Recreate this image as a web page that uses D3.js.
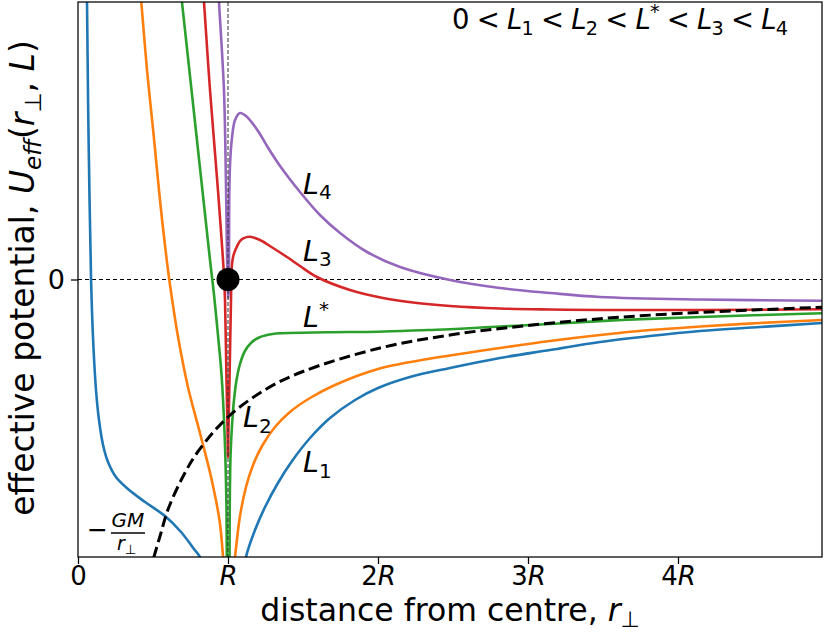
<!DOCTYPE html>
<html>
<head>
<meta charset="utf-8">
<script src="https://cdn.jsdelivr.net/npm/d3@7"></script>
<style>
  body { margin: 0; background: #fff; }
  text { font-family: "DejaVu Sans", sans-serif; white-space: pre; }
</style>
</head>
<body>
<div id="chart"></div>
<script>
// curves: [r / R, U_eff]  (arbitrary potential units)
const l1Left = [[0.055, 2.995], [0.060, 2.775], [0.067, 1.795], [0.077, 0.795], [0.087, 0.005], [0.100, -0.575],
    [0.120, -1.105], [0.140, -1.405], [0.167, -1.655], [0.200, -1.825], [0.253, -1.975], [0.333, -2.095],
    [0.447, -2.225], [0.580, -2.365], [0.687, -2.525], [0.773, -2.695], [0.813, -2.775], [0.840, -2.905]];
const l1Right = [[1.100, -3.005], [1.120, -2.775], [1.180, -2.505], [1.247, -2.275], [1.333, -2.035],
    [1.427, -1.815], [1.547, -1.585], [1.680, -1.385], [1.847, -1.205], [2.000, -1.085], [2.213, -0.975],
    [2.480, -0.885], [2.813, -0.785], [3.147, -0.705], [3.480, -0.625], [3.813, -0.565], [4.147, -0.515],
    [4.547, -0.475], [4.960, -0.435]];

const l2Left = [[0.407, 2.995], [0.422, 2.775], [0.460, 2.095], [0.503, 1.465], [0.550, 0.745],
    [0.600, 0.095], [0.633, -0.255], [0.667, -0.575], [0.733, -1.075], [0.820, -1.575], [0.887, -1.975],
    [0.943, -2.405], [0.967, -2.775], [0.973, -2.955]];
const l2Right = [[1.033, -3.005], [1.047, -2.775], [1.080, -2.365], [1.120, -2.075], [1.167, -1.855],
    [1.227, -1.665], [1.313, -1.475], [1.413, -1.325], [1.547, -1.185], [1.713, -1.055], [2.000, -0.895],
    [2.333, -0.795], [2.480, -0.760], [2.813, -0.685], [3.147, -0.615], [3.480, -0.555], [3.813, -0.505],
    [4.147, -0.470], [4.547, -0.435], [4.960, -0.405]];

const lStarLeft = [[0.677, 2.995], [0.693, 2.775], [0.793, 1.395], [0.880, 0.195], [0.907, -0.155],
    [0.933, -0.555], [0.957, -0.955], [0.978, -1.575], [0.989, -2.205], [0.992, -2.735], [0.993, -2.955]];
const lStarRight = [[1.010, -2.955], [1.012, -2.205], [1.017, -1.755], [1.027, -1.455], [1.040, -1.205],
    [1.057, -1.005], [1.080, -0.845], [1.113, -0.715], [1.153, -0.635], [1.200, -0.585], [1.260, -0.555],
    [1.347, -0.538], [1.667, -0.528], [2.000, -0.522], [2.333, -0.505], [2.480, -0.498], [2.813, -0.470],
    [3.147, -0.445], [3.627, -0.405], [4.147, -0.375], [4.960, -0.338]];

const l3Curve = [[0.830, 2.995], [0.840, 2.775], [0.880, 1.895], [0.933, 0.895], [0.973, 0.045],
    [0.980, -0.205], [0.990, -1.005], [0.997, -1.505], [1.000, -1.775], [1.003, -1.505], [1.010, -1.005],
    [1.020, -0.205], [1.025, 0.125], [1.037, 0.245], [1.058, 0.325], [1.080, 0.385], [1.102, 0.412],
    [1.147, 0.428], [1.213, 0.395], [1.300, 0.315], [1.393, 0.225], [1.480, 0.135], [1.593, 0.025],
    [1.813, -0.105], [2.033, -0.185], [2.260, -0.235], [2.480, -0.265], [2.813, -0.290], [3.147, -0.300],
    [3.480, -0.305], [4.147, -0.305], [4.960, -0.298]];

const l4Curve = [[0.933, 2.995], [0.940, 2.775], [0.973, 1.895], [0.987, 0.895], [0.993, 0.295],
    [0.999, -0.105], [1.002, -0.185], [1.005, -0.105], [1.007, 0.295], [1.009, 0.895], [1.015, 1.195],
    [1.025, 1.395], [1.047, 1.595], [1.080, 1.665], [1.120, 1.635], [1.167, 1.555], [1.213, 1.455],
    [1.260, 1.335], [1.347, 1.135], [1.480, 0.875], [1.613, 0.645], [1.747, 0.465], [1.927, 0.275],
    [2.147, 0.125], [2.480, -0.005], [2.813, -0.085], [3.147, -0.135], [3.480, -0.175], [4.147, -0.200],
    [4.960, -0.212]];

// -GM/r
const gmCurve = [[0.505, -2.78], [0.550, -2.55], [0.600, -2.30], [0.700, -1.97], [0.800, -1.72],
    [1.000, -1.375], [1.250, -1.10], [1.500, -0.92], [2.000, -0.69], [2.500, -0.55], [3.000, -0.46],
    [3.500, -0.39], [4.000, -0.34], [4.500, -0.305], [4.960, -0.277]];

const xTickValues = [0, 1, 2, 3, 4];
const xTickLabels = ["0", "R", "2R", "3R", "4R"];
const yTickValues = [0];
const yTickLabels = ["0"];

const curveLabels = [
    { name: "4", x: 1.5, y: 0.86 },
    { name: "3", x: 1.5, y: 0.19 },
    { name: "*", x: 1.5, y: -0.475 },
    { name: "2", x: 1.1, y: -1.475 },
    { name: "1", x: 1.5, y: -1.925 }
];

const width = 825, height = 632;
const margin = { left: 78, right: 3, top: 2, bottom: 75 };

const svg = d3.select("#chart").append("svg")
    .attr("width", width)
    .attr("height", height);

const x = d3.scaleLinear().domain([0, 4.96]).range([margin.left, width - margin.right]);
const y = d3.scaleLinear().domain([-2.775, 2.775]).range([height - margin.bottom, margin.top]);

svg.append("clipPath").attr("id", "plot-clip")
    .append("rect")
    .attr("x", x(0)).attr("y", y(2.775))
    .attr("width", x(4.96) - x(0)).attr("height", y(-2.775) - y(2.775));

const line = d3.line()
    .x(d => x(d[0]))
    .y(d => y(d[1]))
    .curve(d3.curveCatmullRom.alpha(0.5));

const plot = svg.append("g").attr("clip-path", "url(#plot-clip)");

// zero line
plot.append("line")
    .attr("x1", x(0)).attr("x2", x(4.96))
    .attr("y1", y(0)).attr("y2", y(0))
    .attr("stroke", "#000").attr("stroke-width", 1)
    .attr("stroke-dasharray", "4,3");

const series = [
    { data: l1Left, color: "#1f77b4" }, { data: l1Right, color: "#1f77b4" },
    { data: l2Left, color: "#ff7f0e" }, { data: l2Right, color: "#ff7f0e" },
    { data: lStarLeft, color: "#2ca02c" }, { data: lStarRight, color: "#2ca02c" },
    { data: l3Curve, color: "#d62728" },
    { data: l4Curve, color: "#9467bd" }
];

plot.selectAll(".curve")
    .data(series)
    .enter().append("path")
    .attr("class", "curve")
    .attr("d", d => line(d.data))
    .attr("fill", "none")
    .attr("stroke", d => d.color)
    .attr("stroke-width", 2.6);

// r = R marker
plot.append("line")
    .attr("x1", x(1)).attr("x2", x(1))
    .attr("y1", y(2.775)).attr("y2", y(-2.775))
    .attr("stroke", "#333").attr("stroke-width", 1)
    .attr("stroke-dasharray", "4,2");

plot.append("path")
    .attr("d", line(gmCurve))
    .attr("fill", "none")
    .attr("stroke", "#000")
    .attr("stroke-width", 3)
    .attr("stroke-dasharray", "11,5");

plot.append("circle")
    .attr("cx", x(1)).attr("cy", y(0))
    .attr("r", 11.5)
    .attr("fill", "#000");

// frame
svg.append("rect")
    .attr("x", x(0)).attr("y", y(2.775))
    .attr("width", x(4.96) - x(0)).attr("height", y(-2.775) - y(2.775))
    .attr("fill", "none").attr("stroke", "#000").attr("stroke-width", 1.25);

// axes
const xAxis = svg.append("g")
    .attr("transform", `translate(0,${y(-2.775)})`)
    .call(d3.axisBottom(x).tickValues(xTickValues).tickSize(7).tickPadding(3)
        .tickFormat((d, i) => xTickLabels[i]));
xAxis.select(".domain").remove();
xAxis.selectAll(".tick line").attr("stroke-width", 1.25);
xAxis.selectAll(".tick text")
    .attr("font-size", 26)
    .attr("font-family", "DejaVu Sans")
    .attr("fill", "#000")
    .each(function(d, i) {
        const label = xTickLabels[i];
        const t = d3.select(this).text(null);
        if (label.endsWith("R")) {
            if (label.length > 1) t.append("tspan").text(label.slice(0, -1));
            t.append("tspan").attr("font-style", "italic").text("R");
        } else {
            t.text(label);
        }
    });

const yAxis = svg.append("g")
    .attr("transform", `translate(${x(0)},0)`)
    .call(d3.axisLeft(y).tickValues(yTickValues).tickSize(7).tickPadding(6)
        .tickFormat((d, i) => yTickLabels[i]));
yAxis.select(".domain").remove();
yAxis.selectAll(".tick line").attr("stroke-width", 1.25);
yAxis.selectAll(".tick text")
    .attr("font-size", 27)
    .attr("font-family", "DejaVu Sans")
    .attr("fill", "#000");

// rich text helper: parts = [{t, it, sub, sup}]
function richText(parent, parts, size, subShift = 0.21) {
    const text = parent.append("text").attr("font-size", size);
    let cur = 0;
    parts.forEach(p => {
        const shift = p.sub ? size * subShift : p.sup ? -size * 0.4 : 0;
        const fs = (p.sub || p.sup) ? size * 0.7 : size;
        text.append("tspan")
            .attr("dy", shift - cur)
            .attr("font-size", fs)
            .attr("font-style", p.it ? "italic" : "normal")
            .text(p.t);
        cur = shift;
    });
    return text;
}

// curve labels
curveLabels.forEach(c => {
    const parts = c.name === "*"
        ? [{ t: "L", it: true }, { t: "*", sup: true }]
        : [{ t: "L", it: true }, { t: c.name, sub: true }];
    richText(svg, parts, 28.5).attr("x", x(c.x)).attr("y", y(c.y));
});

// ordering note, top right
richText(svg, [
    { t: "0 < " }, { t: "L", it: true }, { t: "1", sub: true },
    { t: " < " }, { t: "L", it: true }, { t: "2", sub: true },
    { t: " < " }, { t: "L", it: true }, { t: "*", sup: true },
    { t: " < " }, { t: "L", it: true }, { t: "3", sub: true },
    { t: " < " }, { t: "L", it: true }, { t: "4", sub: true }
], 27.5).attr("x", 452).attr("y", 29)
    .attr("textLength", 336).attr("lengthAdjust", "spacing");

// -GM / r_perp label
const gm = svg.append("g");
gm.append("text").attr("x", 87).attr("y", 538).attr("font-size", 25).text("\u2212");
gm.append("text").attr("x", 128).attr("y", 527).attr("font-size", 20)
    .attr("font-style", "italic").attr("text-anchor", "middle").text("GM");
gm.append("line").attr("x1", 111).attr("x2", 145).attr("y1", 533).attr("y2", 533)
    .attr("stroke", "#000").attr("stroke-width", 1.3);
richText(gm, [{ t: "r", it: true }, { t: "\u22a5", sub: true }], 19)
    .attr("x", 117).attr("y", 550);

// axis titles
richText(svg, [{ t: "distance from centre, " }, { t: "r", it: true }, { t: "\u22a5", sub: true }], 31.5, 0.18)
    .attr("x", 450).attr("y", 621).attr("text-anchor", "middle");

richText(svg, [
    { t: "effective potential, " }, { t: "U", it: true }, { t: "eff", it: true, sub: true },
    { t: "(" }, { t: "r", it: true }, { t: "\u22a5", sub: true }, { t: ", " }, { t: "L", it: true }, { t: ")" }
], 33).attr("transform", "translate(34,278) rotate(-90)").attr("text-anchor", "middle");
</script>
</body>
</html>
